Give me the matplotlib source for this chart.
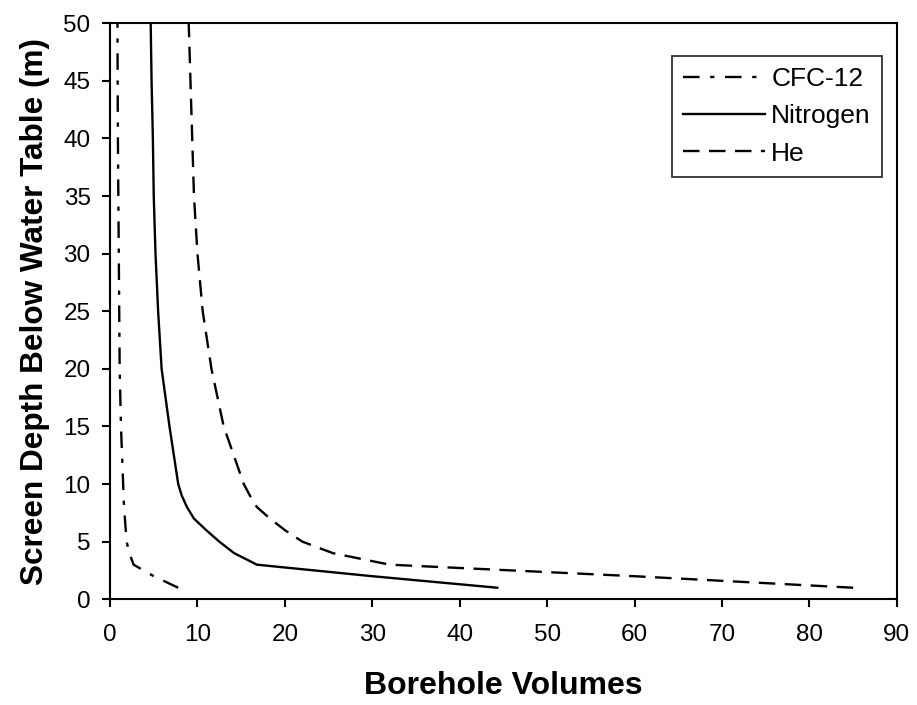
import matplotlib
matplotlib.use("Agg")
import matplotlib.pyplot as plt

plt.rcParams['font.family'] = ['Liberation Sans', 'DejaVu Sans']

depth = [1, 2, 3, 4, 5, 6, 7, 8, 9, 10, 15, 20, 25, 30, 35, 40, 45, 50]
cfc12 = [7.8, 5.0, 2.7, 2.2, 1.9, 1.8, 1.7, 1.6, 1.55, 1.5, 1.25, 1.1, 1.05, 1.0, 0.95, 0.9, 0.87, 0.85]
nitrogen = [44.3, 30.0, 16.8, 14.2, 12.5, 11.0, 9.6, 8.8, 8.2, 7.8, 6.8, 5.9, 5.5, 5.2, 5.0, 4.9, 4.75, 4.65]
helium = [85.0, 60.0, 32.0, 25.5, 22.0, 20.0, 18.3, 16.8, 16.0, 15.3, 13.0, 11.6, 10.6, 10.0, 9.6, 9.4, 9.2, 9.0]

xticks = list(range(0, 91, 10))
yticks = list(range(0, 51, 5))

fig = plt.figure(figsize=(9.17, 7.05), dpi=100)
ax = fig.add_axes([0.12, 0.150, 0.858, 0.817])

lw = 1.7
ax.plot(cfc12, depth, color='black', lw=lw, linestyle=(0, (7, 4.5, 1.8, 4.5)), label='CFC-12')
ax.plot(nitrogen, depth, color='black', lw=lw, linestyle='-', label='Nitrogen')
ax.plot(helium, depth, color='black', lw=lw, linestyle=(0, (7, 4)), label='He')

ax.set_xlim(0, 90)
ax.set_ylim(0, 50)
ax.set_xticks(xticks)
ax.set_yticks(yticks)
ax.tick_params(direction='out', length=6, width=1.5, labelsize=17.5)
ax.tick_params(axis='x', pad=12)
ax.tick_params(axis='y', pad=8)
for s in ax.spines.values():
    s.set_linewidth(1.5)

ax.set_xlabel('Borehole Volumes', fontsize=23, fontweight='bold', labelpad=18)
ax.set_ylabel('Screen Depth Below Water Table (m)', fontsize=22.7, fontweight='bold', labelpad=10)

leg = ax.legend(loc='upper right', bbox_to_anchor=(0.981, 0.943), fontsize=19,
                frameon=True, fancybox=False, edgecolor='black', handlelength=3.1,
                handletextpad=0.23, borderpad=0.42, labelspacing=0.5, borderaxespad=0)
leg.get_frame().set_linewidth(1.3)

fig.savefig('out.png', dpi=100)
